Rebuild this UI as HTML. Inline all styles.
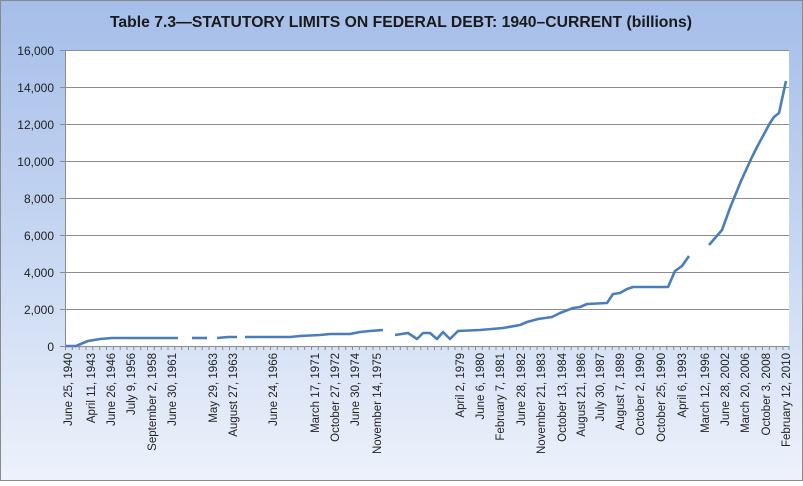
<!DOCTYPE html>
<html><head><meta charset="utf-8"><style>
html,body{margin:0;padding:0;}
body{width:803px;height:481px;overflow:hidden;}
</style></head><body>
<svg width="803" height="481" xmlns="http://www.w3.org/2000/svg" font-family="Liberation Sans, sans-serif">
<defs>
<linearGradient id="bg" x1="0" y1="0" x2="0" y2="1">
<stop offset="0" stop-color="#a5bee9"/>
<stop offset="0.5" stop-color="#c6d6f2"/>
<stop offset="1" stop-color="#edf2fb"/>
</linearGradient>
</defs>
<rect x="0.5" y="0.5" width="802" height="480" fill="url(#bg)" stroke="#8a8a8a"/>
<text x="110" y="27" textLength="582" lengthAdjust="spacingAndGlyphs" font-size="16" font-weight="bold" fill="#1a1a1a">Table 7.3—STATUTORY LIMITS ON FEDERAL DEBT: 1940–CURRENT  (billions)</text>
<rect x="65" y="50" width="724" height="296" fill="#fff"/>
<g stroke="#8c8c8c" stroke-width="1">
<line x1="60" y1="50.5" x2="789" y2="50.5"/>
<line x1="60" y1="87.5" x2="789" y2="87.5"/>
<line x1="60" y1="124.5" x2="789" y2="124.5"/>
<line x1="60" y1="161.5" x2="789" y2="161.5"/>
<line x1="60" y1="198.5" x2="789" y2="198.5"/>
<line x1="60" y1="235.5" x2="789" y2="235.5"/>
<line x1="60" y1="272.5" x2="789" y2="272.5"/>
<line x1="60" y1="309.5" x2="789" y2="309.5"/>
<line x1="60" y1="346.5" x2="789" y2="346.5"/>
<line x1="65.5" y1="50" x2="65.5" y2="346"/>
</g>
<g font-size="12" fill="#222" text-anchor="end">
<text x="54" y="55">16,000</text>
<text x="54" y="92">14,000</text>
<text x="54" y="129">12,000</text>
<text x="54" y="166">10,000</text>
<text x="54" y="203">8,000</text>
<text x="54" y="240">6,000</text>
<text x="54" y="277">4,000</text>
<text x="54" y="314">2,000</text>
<text x="54" y="351">0</text>
</g>
<g fill="none" stroke="#4a7ebb" stroke-width="2.6" stroke-linejoin="round">
<polyline points="66,346 76,346 88,341 100,339 112,338 178,338"/>
<polyline points="192,338 207,338"/>
<polyline points="217,338 228,337 237,337"/>
<polyline points="245,337 290,337 300,336 320,335 330,334 350,334 360,332 370,331 383,330"/>
<polyline points="395,335 408,333 417,339 423,333 430,333 437,339 443,332 450,339 458,331 480,330 503,328 520,325 527,322 538,319 552,317 560,313 573,308 580,307 587,304 607,303 613,294 620,293 627,289 633,287 667,287 668,287 675,271 682,266 689,256"/>
<polyline points="709,245 722,230 730,208 741,181 752,157 757,147 770,123 774,117 779,113 786,81"/>
</g>
<g font-size="11.5" fill="#222" text-anchor="end">
<text transform="translate(72,353) rotate(-90)">June 25, 1940</text>
<text transform="translate(95,353) rotate(-90)">April 11, 1943</text>
<text transform="translate(115,353) rotate(-90)">June 26, 1946</text>
<text transform="translate(135,353) rotate(-90)">July 9, 1956</text>
<text transform="translate(156,353) rotate(-90)">September 2, 1958</text>
<text transform="translate(176,353) rotate(-90)">June 30, 1961</text>
<text transform="translate(217,353) rotate(-90)">May 29, 1963</text>
<text transform="translate(237,353) rotate(-90)">August 27, 1963</text>
<text transform="translate(277,353) rotate(-90)">June 24, 1966</text>
<text transform="translate(319,353) rotate(-90)">March 17, 1971</text>
<text transform="translate(339,353) rotate(-90)">October 27, 1972</text>
<text transform="translate(359,353) rotate(-90)">June 30, 1974</text>
<text transform="translate(381,353) rotate(-90)">November 14, 1975</text>
<text transform="translate(464,353) rotate(-90)">April 2, 1979</text>
<text transform="translate(484,353) rotate(-90)">June 6, 1980</text>
<text transform="translate(504,353) rotate(-90)">February 7, 1981</text>
<text transform="translate(525,353) rotate(-90)">June 28, 1982</text>
<text transform="translate(545,353) rotate(-90)">November 21, 1983</text>
<text transform="translate(566,353) rotate(-90)">October 13, 1984</text>
<text transform="translate(585,353) rotate(-90)">August 21, 1986</text>
<text transform="translate(604,353) rotate(-90)">July 30, 1987</text>
<text transform="translate(624,353) rotate(-90)">August 7, 1989</text>
<text transform="translate(644,353) rotate(-90)">October 2, 1990</text>
<text transform="translate(665,353) rotate(-90)">October 25, 1990</text>
<text transform="translate(686,353) rotate(-90)">April 6, 1993</text>
<text transform="translate(709,353) rotate(-90)">March 12, 1996</text>
<text transform="translate(729,353) rotate(-90)">June 28, 2002</text>
<text transform="translate(749,353) rotate(-90)">March 20, 2006</text>
<text transform="translate(770,353) rotate(-90)">October 3, 2008</text>
<text transform="translate(790,353) rotate(-90)">February 12, 2010</text>
</g>
<path stroke="#8c8c8c" stroke-width="1" d="M65.5,346v4 M72.3,346v4 M79.2,346v4 M86,346v4 M92.8,346v4 M99.7,346v4 M106.5,346v4 M113.3,346v4 M120.2,346v4 M127,346v4 M133.8,346v4 M140.7,346v4 M147.5,346v4 M154.3,346v4 M161.2,346v4 M168,346v4 M174.8,346v4 M181.7,346v4 M188.5,346v4 M195.3,346v4 M202.2,346v4 M209,346v4 M215.8,346v4 M222.7,346v4 M229.5,346v4 M236.3,346v4 M243.2,346v4 M250,346v4 M256.8,346v4 M263.7,346v4 M270.5,346v4 M277.3,346v4 M284.2,346v4 M291,346v4 M297.8,346v4 M304.7,346v4 M311.5,346v4 M318.3,346v4 M325.2,346v4 M332,346v4 M338.8,346v4 M345.7,346v4 M352.5,346v4 M359.3,346v4 M366.2,346v4 M373,346v4 M379.8,346v4 M386.7,346v4 M393.5,346v4 M400.3,346v4 M407.2,346v4 M414,346v4 M420.8,346v4 M427.7,346v4 M434.5,346v4 M441.3,346v4 M448.2,346v4 M455,346v4 M461.8,346v4 M468.7,346v4 M475.5,346v4 M482.3,346v4 M489.2,346v4 M496,346v4 M502.8,346v4 M509.7,346v4 M516.5,346v4 M523.3,346v4 M530.2,346v4 M537,346v4 M543.8,346v4 M550.7,346v4 M557.5,346v4 M564.3,346v4 M571.2,346v4 M578,346v4 M584.8,346v4 M591.7,346v4 M598.5,346v4 M605.3,346v4 M612.2,346v4 M619,346v4 M625.8,346v4 M632.7,346v4 M639.5,346v4 M646.3,346v4 M653.2,346v4 M660,346v4 M666.8,346v4 M673.7,346v4 M680.5,346v4 M687.3,346v4 M694.2,346v4 M701,346v4 M707.8,346v4 M714.7,346v4 M721.5,346v4 M728.3,346v4 M735.2,346v4 M742,346v4 M748.8,346v4 M755.7,346v4 M762.5,346v4 M769.3,346v4 M776.2,346v4 M783,346v4 M789,346v4"/>
</svg>
</body></html>
